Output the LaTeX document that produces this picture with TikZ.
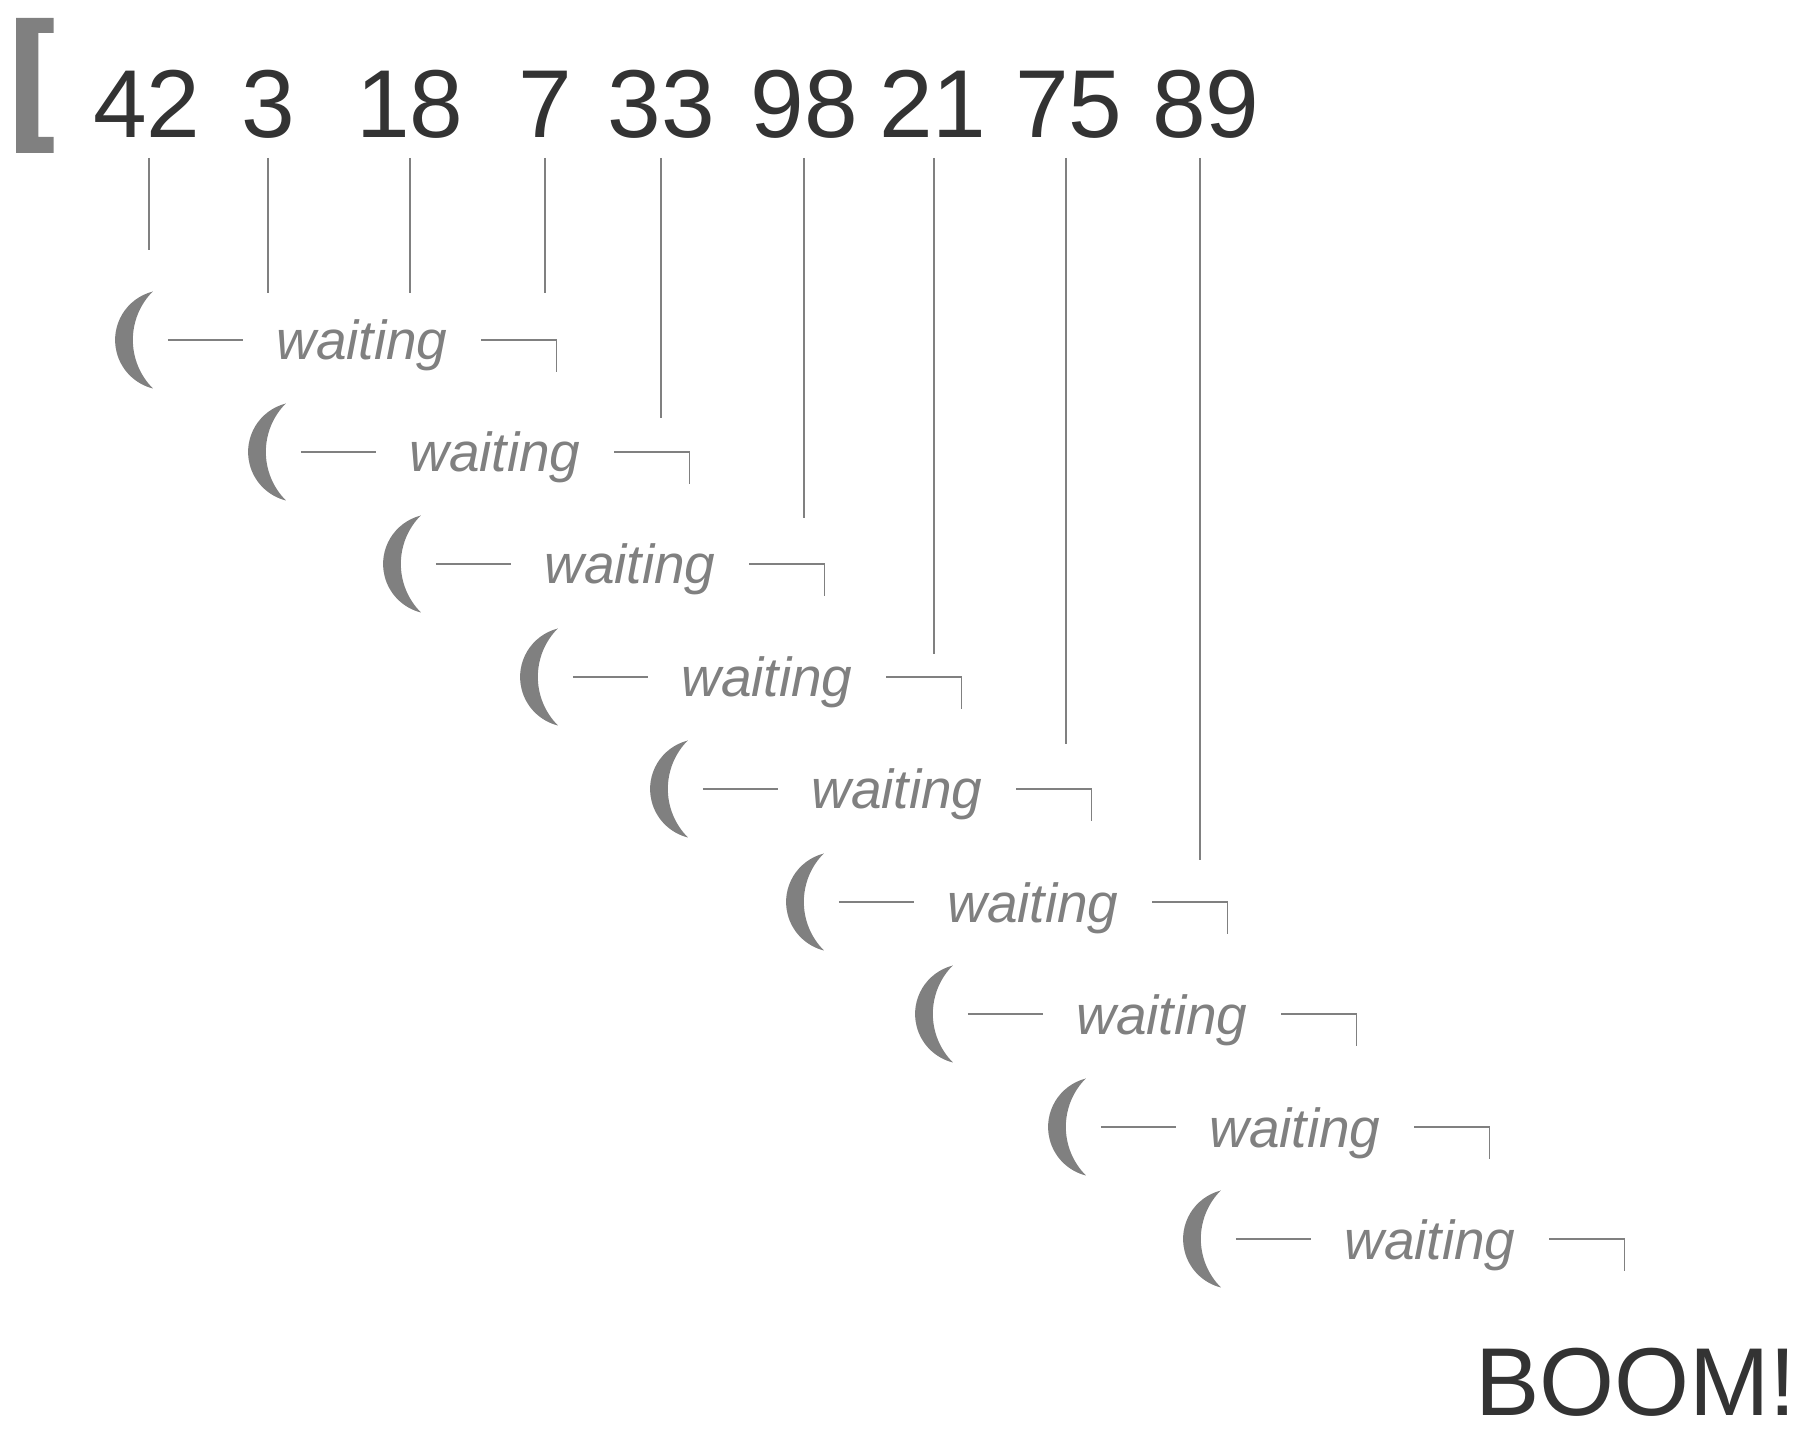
\documentclass[tikz,border=0pt]{standalone}
\usepackage{fontspec}
\setmainfont{Liberation Sans}
\usepackage{xcolor}
\definecolor{ink}{HTML}{333333}
\definecolor{ash}{HTML}{808080}

\begin{document}
\begin{tikzpicture}[scale=0.2]
	\tikzstyle{every node}+=[inner sep=0pt]
	\tikzstyle{num}=[anchor=base, text=ink, font=\fontsize{54.9}{60}\selectfont]
	\tikzstyle{wait}=[anchor=base, inner xsep=0.668cm, text=ash, font=\fontsize{31.3}{36}\selectfont\itshape]
	\tikzstyle{wire}=[draw=ash, line width=0.9pt]
	\tikzstyle{moon}=[fill=ash]
	\useasboundingbox (0,0) rectangle (180,-143.7);
	% opening bracket
	\fill [ash] (1.6,-1.8) -- (5.36,-1.8) -- (5.36,-3.3) -- (3.83,-3.3) -- (3.83,-13.7) -- (5.36,-13.7) -- (5.36,-15.3) -- (1.6,-15.3) -- cycle;
	% the numbers
	\node [num] (n42) at (14.7,-13.8) {42};
	\node [num] (n3) at (26.8,-13.8) {3};
	\node [num] (n18) at (41.0,-13.8) {18};
	\node [num] (n7) at (54.5,-13.8) {7};
	\node [num] (n33) at (66.15,-13.8) {33};
	\node [num] (n98) at (80.45,-13.8) {98};
	\node [num] (n21) at (93.3,-13.8) {21};
	\node [num] (n75) at (106.9,-13.8) {75};
	\node [num] (n89) at (120.6,-13.8) {89};
	\node [num, anchor=base east] (boom) at (179.7,-141.5) {BOOM!};
	% where the drops end
	\coordinate (t42) at (14.9,-25.0);
	\coordinate (t3) at (26.8,-29.3);
	\coordinate (t18) at (41.0,-29.3);
	\coordinate (t7) at (54.5,-29.3);
	\coordinate (t33) at (66.1,-41.8);
	\coordinate (t98) at (80.4,-51.8);
	\coordinate (t21) at (93.4,-65.4);
	\coordinate (t75) at (106.6,-74.4);
	\coordinate (t89) at (120.0,-86.0);
	\draw [wire] (n42.base -| t42) ++(0,-2) -- (t42);
	\draw [wire] (n3.base -| t3) ++(0,-2) -- (t3);
	\draw [wire] (n18.base -| t18) ++(0,-2) -- (t18);
	\draw [wire] (n7.base -| t7) ++(0,-2) -- (t7);
	\draw [wire] (n33.base -| t33) ++(0,-2) -- (t33);
	\draw [wire] (n98.base -| t98) ++(0,-2) -- (t98);
	\draw [wire] (n21.base -| t21) ++(0,-2) -- (t21);
	\draw [wire] (n75.base -| t75) ++(0,-2) -- (t75);
	\draw [wire] (n89.base -| t89) ++(0,-2) -- (t89);
	% waiting rows
	\coordinate (m0) at (15.3,-34.0);
	\coordinate (m1) at (28.6,-45.2);
	\coordinate (m2) at (42.1,-56.4);
	\coordinate (m3) at (55.8,-67.7);
	\coordinate (m4) at (68.8,-78.9);
	\coordinate (m5) at (82.4,-90.2);
	\coordinate (m6) at (95.3,-101.4);
	\coordinate (m7) at (108.6,-112.7);
	\coordinate (m8) at (122.1,-123.9);
	\node [wait] (w0) at (36.2,-36.0) {waiting};
	\node [wait] (w1) at (49.5,-47.2) {waiting};
	\node [wait] (w2) at (63.0,-58.4) {waiting};
	\node [wait] (w3) at (76.7,-69.7) {waiting};
	\node [wait] (w4) at (89.7,-80.9) {waiting};
	\node [wait] (w5) at (103.3,-92.2) {waiting};
	\node [wait] (w6) at (116.2,-103.4) {waiting};
	\node [wait] (w7) at (129.5,-114.7) {waiting};
	\node [wait] (w8) at (143.0,-125.9) {waiting};
	\fill [moon] (m0) ++(0,4.85) arc [start angle=104, end angle=256, radius=5] arc [start angle=225, end angle=135, radius=6.88] -- cycle;
	\fill [moon] (m1) ++(0,4.85) arc [start angle=104, end angle=256, radius=5] arc [start angle=225, end angle=135, radius=6.88] -- cycle;
	\fill [moon] (m2) ++(0,4.85) arc [start angle=104, end angle=256, radius=5] arc [start angle=225, end angle=135, radius=6.88] -- cycle;
	\fill [moon] (m3) ++(0,4.85) arc [start angle=104, end angle=256, radius=5] arc [start angle=225, end angle=135, radius=6.88] -- cycle;
	\fill [moon] (m4) ++(0,4.85) arc [start angle=104, end angle=256, radius=5] arc [start angle=225, end angle=135, radius=6.88] -- cycle;
	\fill [moon] (m5) ++(0,4.85) arc [start angle=104, end angle=256, radius=5] arc [start angle=225, end angle=135, radius=6.88] -- cycle;
	\fill [moon] (m6) ++(0,4.85) arc [start angle=104, end angle=256, radius=5] arc [start angle=225, end angle=135, radius=6.88] -- cycle;
	\fill [moon] (m7) ++(0,4.85) arc [start angle=104, end angle=256, radius=5] arc [start angle=225, end angle=135, radius=6.88] -- cycle;
	\fill [moon] (m8) ++(0,4.85) arc [start angle=104, end angle=256, radius=5] arc [start angle=225, end angle=135, radius=6.88] -- cycle;
	\draw [wire] (m0) ++(1.5,0) -- (w0.west |- m0);
	\draw [wire] (w0.east |- m0) -- ++(7.5,0) -- ++(0,-3.2);
	\draw [wire] (m1) ++(1.5,0) -- (w1.west |- m1);
	\draw [wire] (w1.east |- m1) -- ++(7.5,0) -- ++(0,-3.2);
	\draw [wire] (m2) ++(1.5,0) -- (w2.west |- m2);
	\draw [wire] (w2.east |- m2) -- ++(7.5,0) -- ++(0,-3.2);
	\draw [wire] (m3) ++(1.5,0) -- (w3.west |- m3);
	\draw [wire] (w3.east |- m3) -- ++(7.5,0) -- ++(0,-3.2);
	\draw [wire] (m4) ++(1.5,0) -- (w4.west |- m4);
	\draw [wire] (w4.east |- m4) -- ++(7.5,0) -- ++(0,-3.2);
	\draw [wire] (m5) ++(1.5,0) -- (w5.west |- m5);
	\draw [wire] (w5.east |- m5) -- ++(7.5,0) -- ++(0,-3.2);
	\draw [wire] (m6) ++(1.5,0) -- (w6.west |- m6);
	\draw [wire] (w6.east |- m6) -- ++(7.5,0) -- ++(0,-3.2);
	\draw [wire] (m7) ++(1.5,0) -- (w7.west |- m7);
	\draw [wire] (w7.east |- m7) -- ++(7.5,0) -- ++(0,-3.2);
	\draw [wire] (m8) ++(1.5,0) -- (w8.west |- m8);
	\draw [wire] (w8.east |- m8) -- ++(7.5,0) -- ++(0,-3.2);
\end{tikzpicture}
\end{document}
